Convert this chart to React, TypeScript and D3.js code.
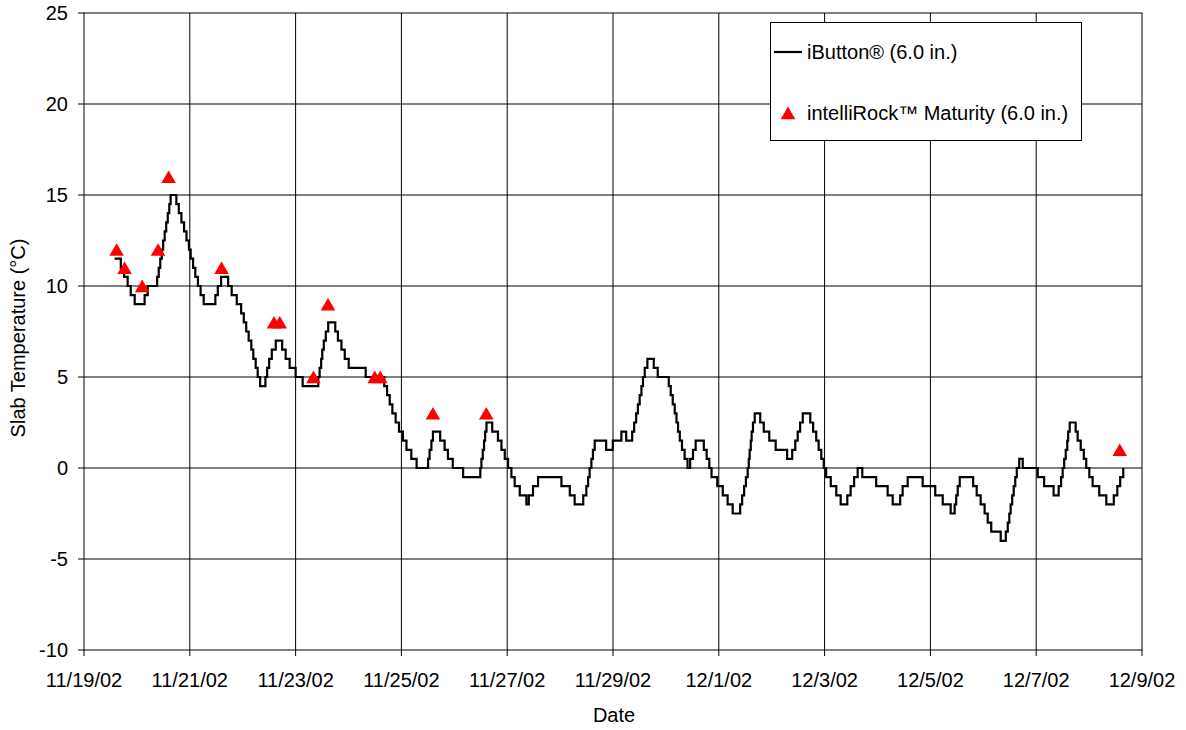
import React from 'react';
import * as d3 from 'd3';

// iButton logger, 6.0 in. depth: [hours since 11/19/02 00:00, °C] at each level change
const iButtonReadings: [number, number][] = [
  [13.9, 11.5], [16.7, 11], [18.2, 10.5], [19.8, 10], [21.2, 9.5], [23.0, 9], [27.5, 9.5], [28.9, 10],
  [33.2, 10.5], [33.9, 11], [34.6, 11.5], [35.3, 12], [35.9, 12.5], [36.6, 13], [37.3, 13.5], [38.0, 14],
  [38.7, 14.5], [39.3, 15], [41.9, 14.5], [43.0, 14], [44.2, 13.5], [45.4, 13], [46.5, 12.5], [47.6, 12],
  [48.4, 11.5], [49.5, 11], [50.5, 10.5], [51.7, 10], [52.9, 9.5], [54.3, 9], [59.6, 9.5], [60.7, 10],
  [62.2, 10.5], [65.4, 10], [67.0, 9.5], [69.3, 9], [71.3, 8.5], [72.5, 8], [73.6, 7.5], [74.7, 7],
  [75.9, 6.5], [76.8, 6], [77.9, 5.5], [78.8, 5], [79.9, 4.5], [82.3, 5], [83.1, 5.5], [84.0, 6],
  [85.2, 6.5], [87.0, 7], [89.9, 6.5], [91.5, 6], [93.3, 5.5], [96.0, 5], [99.2, 4.5], [106.3, 5],
  [106.9, 5.5], [107.6, 6], [108.1, 6.5], [108.8, 7], [109.7, 7.5], [110.8, 8], [114.0, 7.5], [115.2, 7],
  [116.8, 6.5], [118.3, 6], [120.1, 5.5], [127.8, 5], [136.2, 4.5], [137.5, 4], [138.7, 3.5], [139.9, 3],
  [141.4, 2.5], [142.9, 2], [144.7, 1.5], [146.3, 1], [148.5, 0.5], [150.9, 0], [156.1, 0.5], [156.8, 1],
  [157.6, 1.5], [158.3, 2], [161.6, 1.5], [163.6, 1], [165.1, 0.5], [167.3, 0], [172.0, -0.5], [179.8, 0],
  [180.3, 0.5], [180.9, 1], [181.5, 1.5], [182.0, 2], [182.6, 2.5], [185.2, 2], [187.8, 1.5], [189.4, 1],
  [190.9, 0.5], [192.4, 0], [193.9, -0.5], [195.4, -1], [197.7, -1.5], [200.7, -2], [201.8, -1.5], [203.7, -1],
  [206.0, -0.5], [216.6, -1], [220.4, -1.5], [222.6, -2], [226.5, -1.5], [227.9, -1], [228.7, -0.5], [229.4, 0],
  [230.2, 0.5], [230.9, 1], [231.7, 1.5], [236.9, 1], [239.9, 1.5], [243.8, 2], [246.0, 1.5], [248.7, 2],
  [249.6, 2.5], [250.5, 3], [251.3, 3.5], [252.1, 4], [252.9, 4.5], [253.6, 5], [254.4, 5.5], [255.6, 6],
  [258.5, 5.5], [260.3, 5], [265.3, 4.5], [266.2, 4], [267.1, 3.5], [268.0, 3], [268.8, 2.5], [269.5, 2],
  [270.3, 1.5], [271.3, 1], [272.5, 0.5], [273.8, 0], [275.0, 0.5], [276.3, 1], [277.5, 1.5], [281.2, 1],
  [282.5, 0.5], [283.7, 0], [284.7, -0.5], [287.3, -1], [289.8, -1.5], [292.0, -2], [294.3, -2.5], [297.7, -2],
  [298.6, -1.5], [299.5, -1], [300.3, -0.5], [301.1, 0], [301.6, 0.5], [302.0, 1], [302.5, 1.5], [302.9, 2],
  [303.5, 2.5], [304.3, 3], [306.8, 2.5], [308.4, 2], [310.9, 1.5], [313.8, 1], [319.0, 0.5], [321.3, 1],
  [322.7, 1.5], [323.8, 2], [324.9, 2.5], [326.1, 3], [329.5, 2.5], [330.8, 2], [332.2, 1.5], [333.3, 1],
  [334.5, 0.5], [335.6, 0], [336.7, -0.5], [338.8, -1], [341.3, -1.5], [343.3, -2], [346.3, -1.5], [347.8, -1],
  [349.4, -0.5], [351.0, 0], [353.1, -0.5], [359.4, -1], [364.6, -1.5], [366.9, -2], [370.3, -1.5], [371.4, -1],
  [373.7, -0.5], [380.5, -1], [386.2, -1.5], [389.6, -2], [393.2, -2.5], [395.0, -2], [395.7, -1.5], [396.4, -1],
  [397.3, -0.5], [403.4, -1], [405.0, -1.5], [406.8, -2], [408.6, -2.5], [410.0, -3], [411.6, -3.5], [415.9, -4],
  [418.2, -3.5], [419.1, -3], [419.8, -2.5], [420.4, -2], [421.1, -1.5], [421.8, -1], [422.5, -0.5], [423.2, 0],
  [424.3, 0.5], [425.9, 0], [432.7, -0.5], [435.6, -1], [439.9, -1.5], [442.2, -1], [443.3, -0.5], [444.0, 0],
  [444.7, 0.5], [445.4, 1], [446.1, 1.5], [446.5, 2], [447.2, 2.5], [449.9, 2], [450.8, 1.5], [452.2, 1],
  [453.6, 0.5], [454.7, 0], [456.1, -0.5], [457.6, -1], [460.6, -1.5], [463.8, -2], [467.2, -1.5], [468.8, -1],
  [470.1, -0.5], [471.5, 0],
];

// intelliRock maturity logger readings
const intelliRockHours = [14.8, 18.4, 26.4, 33.6, 38.4, 62.4, 86.2, 88.8, 104.1, 110.7, 131.9, 134.4, 158.3, 182.5, 469.9];
const intelliRockTemps = [12, 11, 10, 12, 16, 11, 8, 8, 5, 9, 5, 5, 3, 3, 1];

const yTicks = [-10, -5, 0, 5, 10, 15, 20, 25];
const startDate = new Date(2002, 10, 19);
const endDate = new Date(2002, 11, 9);

const font = '"Liberation Sans", Arial, sans-serif';
const W = 1186, H = 730;
const left = 84, right = 1142, top = 13, bottom = 650;

const toDate = (h: number) => new Date(startDate.getTime() + h * 3600e3);

export default function App() {
  const x = d3.scaleTime().domain([startDate, endDate]).range([left, right]);
  const y = d3.scaleLinear().domain([-10, 25]).range([bottom, top]);
  const xTicks = d3.timeDay.range(startDate, d3.timeDay.offset(endDate, 1), 2);
  const fmt = d3.timeFormat('%-m/%-d/%y');

  const line = d3.line<[number, number]>()
    .x(d => x(toDate(d[0])))
    .y(d => y(d[1]))
    .curve(d3.curveStepAfter);

  const tri = d3.symbol(d3.symbolTriangle, 92)();

  return (
    <svg width={W} height={H} style={{ position: 'absolute', left: 0, top: 0, background: '#fff' }} fontFamily={font}>
      {/* grid */}
      {yTicks.filter(t => t > -10 && t < 25).map(t => (
        <line key={'gy' + t} x1={left} x2={right} y1={y(t)} y2={y(t)} stroke="#000" strokeWidth={1} />
      ))}
      {xTicks.slice(1, -1).map((t, i) => (
        <line key={'gx' + i} x1={x(t)} x2={x(t)} y1={top} y2={bottom} stroke="#000" strokeWidth={1} />
      ))}
      <rect x={left} y={top} width={right - left} height={bottom - top} fill="none" stroke="#000" strokeWidth={1} />

      {/* axes ticks */}
      {yTicks.map(t => (
        <g key={'ty' + t}>
          <line x1={left - 6} x2={left} y1={y(t)} y2={y(t)} stroke="#000" />
          <text x={68} y={y(t)} dy="0.35em" textAnchor="end" fontSize={20}>{String(t)}</text>
        </g>
      ))}
      {xTicks.map((t, i) => (
        <g key={'tx' + i}>
          <line x1={x(t)} x2={x(t)} y1={bottom} y2={bottom + 6} stroke="#000" />
          <text x={x(t)} y={687} textAnchor="middle" fontSize={20}>{fmt(t)}</text>
        </g>
      ))}
      <text x={614} y={722} textAnchor="middle" fontSize={20}>Date</text>
      <text transform={`translate(25,${338}) rotate(-90)`} textAnchor="middle" fontSize={20}>Slab Temperature (°C)</text>

      {/* data */}
      <path d={line(iButtonReadings) || ''} fill="none" stroke="#000" strokeWidth={2.2} />
      {intelliRockHours.map((h, i) => (
        <path key={'m' + i} d={tri || ''} fill="#ff0000"
          transform={`translate(${x(toDate(h))},${y(intelliRockTemps[i]) + 2})`} />
      ))}

      {/* legend */}
      <rect x={770.5} y={22.5} width={311} height={118} fill="#fff" stroke="#000" strokeWidth={1} />
      <line x1={774} x2={802} y1={52} y2={52} stroke="#000" strokeWidth={2.2} />
      <text x={807} y={59} fontSize={20}>iButton® (6.0 in.)</text>
      <path d={tri || ''} fill="#ff0000" transform="translate(788,115)" />
      <text x={807} y={120} fontSize={20}>intelliRock™ Maturity (6.0 in.)</text>
    </svg>
  );
}
